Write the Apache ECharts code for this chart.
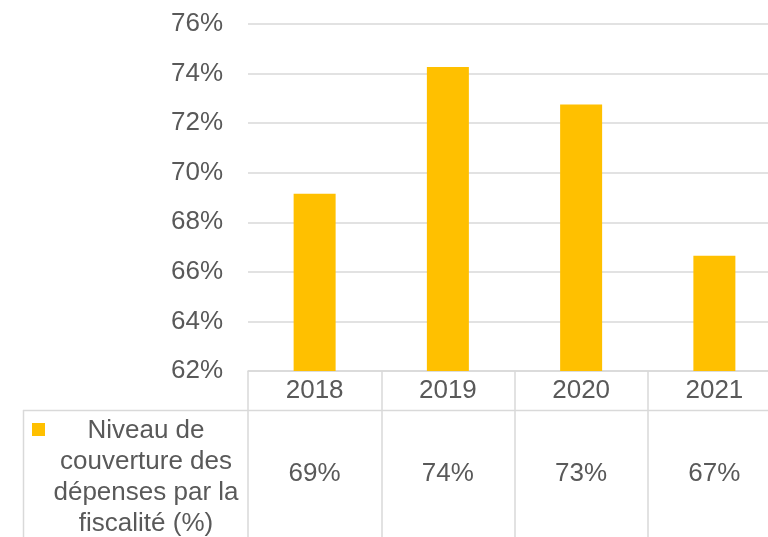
<!DOCTYPE html>
<html>
<head>
<meta charset="utf-8">
<script src="https://cdn.jsdelivr.net/npm/echarts@6/dist/echarts.min.js"></script>
<style>
html,body{margin:0;padding:0;background:#fff;}
#chart{width:768px;height:537px;}
</style>
</head>
<body>
<div id="chart"></div>
<script>
const categories = ['2018', '2019', '2020', '2021'];
const values = [69.15, 74.27, 72.75, 66.65];
const tableLabels = ['69%', '74%', '73%', '67%'];
const seriesName = 'Niveau de\ncouverture des\ndépenses par la\nfiscalité (%)';
const yTicks = {min: 62, max: 76, interval: 2};

const FONT = "'Liberation Sans', Arial, sans-serif";
const TXT = '#595959';
const LINE = '#d9d9d9';
const GOLD = '#FFC000';

const chart = echarts.init(document.getElementById('chart'), null, {renderer: 'canvas'});
chart.setOption({
  animation: false,
  backgroundColor: '#fff',
  grid: {left: 248, width: 533, top: 24, height: 347, containLabel: false, outerBoundsMode: 'none'},
  xAxis: [{
    type: 'category',
    data: categories,
    position: 'bottom',
    axisLine: {show: true, lineStyle: {color: LINE, width: 1.5}},
    axisTick: {show: true, interval: 0, length: 166, lineStyle: {color: LINE, width: 1.5}},
    axisLabel: {color: TXT, fontSize: 26, fontFamily: FONT, margin: 7, interval: 0}
  }, {
    type: 'category',
    data: tableLabels,
    position: 'bottom',
    offset: 83,
    axisLine: {show: false},
    axisTick: {show: false},
    axisLabel: {color: TXT, fontSize: 26, fontFamily: FONT, margin: 7, interval: 0}
  }],
  yAxis: {
    type: 'value',
    min: yTicks.min,
    max: yTicks.max,
    interval: yTicks.interval,
    axisLine: {show: false},
    axisTick: {show: false},
    axisLabel: {color: TXT, fontSize: 26, fontFamily: FONT, margin: 25, formatter: '{value}%'},
    splitLine: {lineStyle: {color: LINE, width: 1.5}}
  },
  series: [{
    name: seriesName,
    type: 'bar',
    xAxisIndex: 0,
    data: values,
    barWidth: 42,
    itemStyle: {color: GOLD}
  }],
  graphic: [
    {type: 'line', shape: {x1: 23, y1: 410.5, x2: 768, y2: 410.5}, style: {stroke: LINE, lineWidth: 1.5}},
    {type: 'line', shape: {x1: 23.5, y1: 410, x2: 23.5, y2: 537}, style: {stroke: LINE, lineWidth: 1.5}},
    {type: 'rect', shape: {x: 32, y: 423, width: 13, height: 13}, style: {fill: GOLD}},
    {type: 'text', x: 146, y: 415, style: {text: seriesName, font: '26px ' + FONT, fill: TXT, textAlign: 'center', textVerticalAlign: 'top', lineHeight: 31}}
  ]
});
</script>
</body>
</html>
